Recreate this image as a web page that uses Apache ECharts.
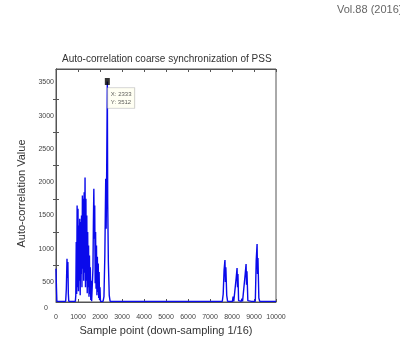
<!DOCTYPE html>
<html>
<head>
<meta charset="utf-8">
<script src="https://cdn.jsdelivr.net/npm/echarts@6/dist/echarts.min.js"></script>
<style>
  html, body { margin: 0; background: #fff; }
  #chart { width: 400px; height: 342px; }
</style>
</head>
<body>
<div id="chart"></div>
<script>
const samplePoints = [
  0, 20, 40, 440, 470, 500, 520, 540, 560, 580, 880,
  900, 920, 940, 960, 980, 1000, 1020, 1040, 1060, 1080, 1100, 1120, 1140, 1160, 1180,
  1200, 1220, 1240, 1260, 1280, 1300, 1320, 1340, 1360, 1380, 1400, 1420, 1440, 1460,
  1480, 1500, 1520, 1540, 1560, 1580, 1600, 1620,
  1660, 1680, 1700, 1720, 1740, 1760, 1780, 1800, 1820, 1840, 1860, 1880, 1900, 1920,
  1940, 1960, 1980, 2000, 2020,
  2140, 2180, 2220, 2260, 2280, 2300, 2333, 2350, 2380, 2420, 2460,
  7560, 7600, 7640, 7680, 7700, 7720, 7760, 7800,
  8020, 8050, 8080, 8150, 8190, 8230, 8250, 8270, 8300, 8340,
  8420, 8450, 8480, 8560, 8600, 8640, 8660, 8680, 8720, 8760,
  8880, 8910, 8940, 9060, 9100, 9140, 9160, 9180, 9220, 9260, 10000
];
const corrValues = [
  700, 420, 210, 210, 400, 850, 560, 800, 330, 210, 210,
  300, 1100, 320, 1650, 420, 1600, 360, 1350, 520, 1450, 300, 1400, 620, 1500, 420,
  1800, 700, 1750, 520, 1850, 640, 2070, 420, 1750, 520, 1500, 330, 1250, 420,
  1050, 280, 900, 320, 720, 230, 520, 210,
  210, 700, 1400, 1900, 1150, 1650, 480, 1250, 400, 1050, 300, 880, 350, 780,
  260, 650, 230, 420, 210,
  210, 280, 900, 2050, 1300, 2000, 3512, 1700, 800, 300, 210,
  210, 320, 680, 830, 500, 720, 300, 210,
  210, 280, 210, 210, 560, 710, 420, 620, 220, 210,
  210, 250, 210, 210, 620, 770, 460, 660, 220, 210,
  210, 230, 210, 210, 820, 1070, 620, 860, 260, 210, 210
];
const peakPoint = [2333, 3512];
const yLabelValues = [500, 1000, 1500, 2000, 2500, 3000, 3500];
const yTickValues = [750, 1250, 1750, 2250, 2750, 3250];

const chart = echarts.init(document.getElementById("chart"));
const sans = "'Liberation Sans', Arial, sans-serif";
const plain = (v) => String(v);

const options = {
  backgroundColor: "#fff",
  animation: false,
  title: {
    text: "Auto-correlation coarse synchronization of PSS",
    left: 57,
    top: 49,
    textStyle: { fontFamily: sans, fontSize: 10, fontWeight: "normal", color: "#333" },
  },
  grid: {
    left: 56, right: 124, top: 69, bottom: 40,
    show: true, borderColor: "#555", borderWidth: 1,
  },
  graphic: [
    { type: "text", left: 337, top: 4, style: { text: "Vol.88 (2016)", fontFamily: sans, fontSize: 11, fill: "#666" } },
    { type: "text", left: 44, top: 305, style: { text: "0", fontFamily: sans, fontSize: 7, fill: "#444" } },
  ],
  xAxis: [
    {
      type: "value", min: 0, max: 10000, interval: 1000,
      name: "Sample point (down-sampling 1/16)",
      nameLocation: "middle", nameGap: 18,
      nameTextStyle: { fontFamily: sans, fontSize: 11, color: "#333" },
      axisLine: { lineStyle: { color: "#555" } },
      axisTick: { inside: true, length: 3, lineStyle: { color: "#555" } },
      axisLabel: { fontFamily: sans, fontSize: 7, color: "#444", margin: 12, formatter: plain },
      splitLine: { show: false },
    },
    {
      type: "value", min: 0, max: 10000, interval: 1000, position: "top",
      axisLine: { lineStyle: { color: "#555" } },
      axisTick: { inside: true, length: 3, lineStyle: { color: "#555" } },
      axisLabel: { show: false },
      splitLine: { show: false },
    },
  ],
  yAxis: [
    {
      type: "value", min: 200, max: 3700,
      name: "Auto-correlation Value",
      nameLocation: "middle", nameGap: 26,
      nameTextStyle: { fontFamily: sans, fontSize: 11, color: "#333", padding: [0, 16, 0, 0] },
      axisLine: { show: true, lineStyle: { color: "#555" } },
      axisTick: { inside: true, length: 3, customValues: yTickValues, lineStyle: { color: "#555" } },
      axisLabel: { fontFamily: sans, fontSize: 7, color: "#444", margin: 2, customValues: yLabelValues, formatter: plain },
      splitLine: { show: false },
    },
    {
      type: "value", min: 200, max: 3700, position: "right",
      axisLine: { show: true, lineStyle: { color: "#555" } },
      axisTick: { inside: true, length: 3, customValues: yTickValues, lineStyle: { color: "#555" } },
      axisLabel: { show: false },
      splitLine: { show: false },
    },
  ],
  series: [
    {
      type: "line",
      data: samplePoints.map((x, i) => [x, corrValues[i]]),
      showSymbol: false,
      sampling: null,
      lineStyle: { color: "#0a0aeb", width: 1.4 },
      itemStyle: { color: "#0a0aeb" },
    },
    {
      type: "scatter",
      data: [peakPoint],
      symbol: "rect",
      symbolSize: [5, 7],
      itemStyle: { color: "#000" },
      label: {
        show: true,
        position: [3, 10],
        formatter: (p) => "X: " + p.value[0] + "\nY: " + p.value[1],
        fontFamily: sans, fontSize: 6, lineHeight: 8, color: "#333",
        backgroundColor: "#fffff0", borderColor: "#aaa", borderWidth: 0.6,
        padding: [2, 3],
      },
      z: 5,
    },
  ],
};

chart.setOption(options);
</script>
</body>
</html>
